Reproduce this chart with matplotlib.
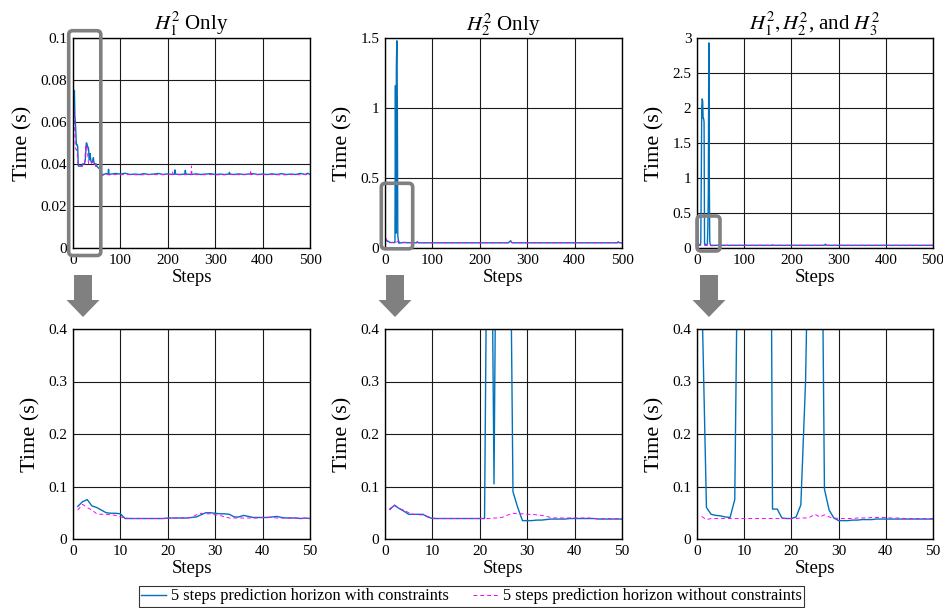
import matplotlib
matplotlib.use("Agg")
import matplotlib.pyplot as plt
from matplotlib.patches import FancyBboxPatch, Polygon
from matplotlib.lines import Line2D

plt.rcParams['font.family'] = ['Liberation Serif', 'DejaVu Serif']
plt.rcParams['mathtext.fontset'] = 'stix'

# ---------------- data ----------------
steps_head = list(range(1, 51))

# Panel 1: H1^2 only
h1_with_head = [0.062, 0.071, 0.075, 0.063, 0.060, 0.055, 0.050, 0.049, 0.049, 0.048,
                0.039, 0.039, 0.039, 0.039, 0.039, 0.039, 0.039, 0.039, 0.039, 0.040,
                0.040, 0.040, 0.040, 0.040, 0.041, 0.042, 0.046, 0.050, 0.050, 0.049,
                0.048, 0.048, 0.047, 0.042, 0.042, 0.045, 0.043, 0.041, 0.041, 0.041,
                0.041, 0.042, 0.043, 0.041, 0.040, 0.040, 0.040, 0.039, 0.040, 0.039]
h1_without_head = [0.055, 0.066, 0.060, 0.055, 0.048, 0.047, 0.047, 0.046, 0.045, 0.042,
                   0.040, 0.039, 0.039, 0.039, 0.039, 0.039, 0.039, 0.039, 0.039, 0.039,
                   0.040, 0.040, 0.040, 0.040, 0.041, 0.046, 0.049, 0.048, 0.048, 0.046,
                   0.045, 0.042, 0.040, 0.040, 0.040, 0.040, 0.040, 0.040, 0.040, 0.041,
                   0.041, 0.041, 0.040, 0.040, 0.040, 0.040, 0.040, 0.039, 0.039, 0.039]
h1_with_tail_steps = [54, 57, 60, 65, 70, 74, 75, 76, 80, 90, 100, 110, 120, 130, 140, 150,
                      160, 170, 180, 190, 200, 210, 214, 215, 216, 225, 236, 237, 238, 250,
                      260, 270, 280, 290, 300, 310, 320, 329, 330, 331, 340, 350, 360, 370,
                      380, 390, 400, 410, 420, 430, 440, 450, 460, 470, 480, 490, 495, 500]
h1_with_tail = [0.038, 0.038, 0.035, 0.035, 0.0355, 0.035, 0.0375, 0.035, 0.0352, 0.0355,
                0.0352, 0.0356, 0.035, 0.0352, 0.035, 0.0354, 0.035, 0.0352, 0.0355, 0.035,
                0.0353, 0.035, 0.0352, 0.0372, 0.0352, 0.035, 0.0352, 0.037, 0.0352, 0.035,
                0.0353, 0.035, 0.0352, 0.0354, 0.035, 0.0352, 0.035, 0.0352, 0.036, 0.0352,
                0.035, 0.0353, 0.035, 0.0352, 0.0354, 0.035, 0.0352, 0.035, 0.0353, 0.035,
                0.0354, 0.035, 0.0352, 0.035, 0.0355, 0.035, 0.0356, 0.035]
h1_without_tail_steps = [54, 57, 60, 70, 80, 90, 100, 120, 140, 160, 180, 200, 209, 210, 211,
                         230, 249, 250, 251, 270, 290, 310, 330, 350, 374, 375, 376, 400, 420,
                         440, 460, 480, 500]
h1_without_tail = [0.038, 0.038, 0.0345, 0.035, 0.0348, 0.035, 0.0349, 0.035, 0.0348, 0.035,
                   0.0349, 0.035, 0.035, 0.0362, 0.035, 0.0349, 0.035, 0.039, 0.035, 0.0349,
                   0.035, 0.0348, 0.035, 0.0349, 0.035, 0.037, 0.035, 0.0349, 0.035, 0.0348,
                   0.035, 0.0349, 0.035]

# Panel 2: H2^2 only
h2_with_head = [0.057, 0.064, 0.058, 0.053, 0.047, 0.047, 0.047, 0.047, 0.042, 0.039,
                0.039, 0.039, 0.039, 0.039, 0.039, 0.039, 0.039, 0.039, 0.039, 0.039,
                0.039, 1.16, 0.105, 1.30, 1.48, 1.03, 0.090, 0.060, 0.035, 0.035,
                0.035, 0.036, 0.036, 0.037, 0.038, 0.038, 0.038, 0.038, 0.039, 0.039,
                0.039, 0.039, 0.039, 0.039, 0.038, 0.038, 0.038, 0.038, 0.038, 0.038]
h2_without_head = [0.055, 0.065, 0.058, 0.055, 0.050, 0.047, 0.046, 0.046, 0.043, 0.040,
                   0.039, 0.039, 0.039, 0.039, 0.039, 0.039, 0.039, 0.039, 0.039, 0.039,
                   0.039, 0.039, 0.040, 0.040, 0.042, 0.046, 0.049, 0.048, 0.048, 0.047,
                   0.047, 0.046, 0.045, 0.043, 0.041, 0.040, 0.040, 0.040, 0.040, 0.040,
                   0.040, 0.040, 0.040, 0.039, 0.039, 0.039, 0.039, 0.039, 0.039, 0.039]
h2_with_tail_steps = [55, 66, 68, 70, 100, 150, 200, 260, 263, 265, 267, 270, 300, 350, 400,
                      450, 490, 492, 494, 500]
h2_with_tail = [0.038, 0.037, 0.045, 0.037, 0.037, 0.037, 0.037, 0.037, 0.045, 0.052, 0.040,
                0.037, 0.037, 0.037, 0.037, 0.037, 0.037, 0.045, 0.037, 0.037]
h2_without_tail_steps = [55, 100, 150, 200, 250, 300, 350, 400, 450, 500]
h2_without_tail = [0.038, 0.038, 0.038, 0.038, 0.038, 0.038, 0.038, 0.038, 0.038, 0.038]

# Panel 3: H1^2, H2^2 and H3^2
h3_with_head = [0.48, 0.060, 0.047, 0.045, 0.044, 0.042, 0.041, 0.075, 0.90, 2.00,
                2.13, 2.10, 1.85, 1.85, 1.80, 0.057, 0.057, 0.040, 0.039, 0.039,
                0.042, 0.065, 0.30, 0.80, 2.93, 1.10, 0.095, 0.055, 0.040, 0.035,
                0.035, 0.035, 0.036, 0.036, 0.037, 0.037, 0.037, 0.038, 0.038, 0.038,
                0.038, 0.038, 0.038, 0.038, 0.038, 0.038, 0.038, 0.038, 0.038, 0.038]
h3_without_head = [0.043, 0.037, 0.039, 0.039, 0.039, 0.039, 0.039, 0.039, 0.039, 0.039,
                   0.039, 0.039, 0.039, 0.039, 0.039, 0.039, 0.039, 0.039, 0.039, 0.039,
                   0.039, 0.040, 0.040, 0.042, 0.047, 0.042, 0.046, 0.042, 0.040, 0.039,
                   0.039, 0.039, 0.039, 0.040, 0.040, 0.040, 0.041, 0.041, 0.041, 0.041,
                   0.040, 0.040, 0.040, 0.039, 0.039, 0.039, 0.039, 0.039, 0.039, 0.039]
h3_with_tail_steps = [60, 100, 158, 160, 162, 200, 270, 272, 274, 350, 400, 450, 500]
h3_with_tail = [0.038, 0.038, 0.038, 0.045, 0.038, 0.038, 0.038, 0.055, 0.038, 0.038, 0.038,
                0.038, 0.038]
h3_without_tail_steps = [60, 100, 150, 200, 250, 300, 350, 400, 450, 500]
h3_without_tail = [0.039, 0.039, 0.039, 0.039, 0.039, 0.039, 0.039, 0.039, 0.039, 0.039]

titles = [r'$H_1^2$ Only', r'$H_2^2$ Only', r'$H_1^2,H_2^2$, and $H_3^2$']
top_ylims = [0.1, 1.5, 3.0]
top_yticks = [[0, 0.02, 0.04, 0.06, 0.08, 0.1],
              [0, 0.5, 1, 1.5],
              [0, 0.5, 1, 1.5, 2, 2.5, 3]]
top_xticks = [0, 100, 200, 300, 400, 500]
bottom_xticks = [0, 10, 20, 30, 40, 50]
bottom_yticks = [0, 0.1, 0.2, 0.3, 0.4]
legend_labels = ['5 steps prediction horizon with constraints',
                 '5 steps prediction horizon without constraints']

series = [
    (h1_with_head, h1_with_tail_steps, h1_with_tail, h1_without_head, h1_without_tail_steps, h1_without_tail),
    (h2_with_head, h2_with_tail_steps, h2_with_tail, h2_without_head, h2_without_tail_steps, h2_without_tail),
    (h3_with_head, h3_with_tail_steps, h3_with_tail, h3_without_head, h3_without_tail_steps, h3_without_tail),
]

# ---------------- style ----------------
W, H = 943, 608
BLUE = '#0072BD'
MAG = '#FF00FF'
GRAY = '#808080'
fig = plt.figure(figsize=(W / 100, H / 100), dpi=100)

lefts = [73, 385, 697]
widths = [237, 237, 236]
top_row = (38, 248)
bot_row = (329, 539)


def fmt(v):
    return ('%g' % v)


def make_ax(left, width, row):
    t, b = row
    return fig.add_axes([left / W, (H - b) / H, width / W, (b - t) / H])


def style(ax, xt, yt, xl, yl):
    ax.set_xlim(*xl)
    ax.set_ylim(*yl)
    ax.set_xticks(xt)
    ax.set_yticks(yt)
    ax.set_xticklabels([fmt(v) for v in xt], fontsize=11)
    ax.set_yticklabels([fmt(v) for v in yt], fontsize=11)
    ax.tick_params(length=0, pad=4)
    ax.grid(True, color='#1a1a1a', lw=0.8)
    ax.set_axisbelow(True)
    for s in ax.spines.values():
        s.set_color('black')
        s.set_linewidth(1.0)
    ax.set_xlabel('Steps', fontsize=13.5, labelpad=2)
    ax.set_ylabel('Time (s)', fontsize=16, labelpad=6)


for i in range(3):
    wh, wts, wt, woh, wots, wot = series[i]
    x_with = steps_head + wts
    y_with = wh + wt
    x_wo = steps_head + wots
    y_wo = woh + wot

    ax = make_ax(lefts[i], widths[i], top_row)
    ax.plot(x_with, y_with, color=BLUE, lw=1.0)
    ax.plot(x_wo, y_wo, color=MAG, lw=0.7, ls=(0, (4, 3)))
    style(ax, top_xticks, top_yticks[i], (0, 500), (0, top_ylims[i]))
    ax.set_title(titles[i], fontsize=15, pad=5)

    axb = make_ax(lefts[i], widths[i], bot_row)
    axb.plot(x_with, y_with, color=BLUE, lw=1.0)
    axb.plot(x_wo, y_wo, color=MAG, lw=0.7, ls=(0, (4, 3)))
    style(axb, bottom_xticks, bottom_yticks, (0, 50), (0, 0.4))

# ---------------- zoom boxes and arrows (pixel coordinates) ----------------
boxes = [(68.7, 30.7, 100.8, 255.5), (381.3, 183.3, 412.7, 248.8), (697.0, 216.0, 720.0, 251.0)]
for (x0, y0, x1, y1) in boxes:
    p = FancyBboxPatch((x0 / 100, (H - y1) / 100), (x1 - x0) / 100, (y1 - y0) / 100,
                       boxstyle='round,pad=0,rounding_size=0.04',
                       transform=fig.dpi_scale_trans, fill=False,
                       edgecolor=GRAY, lw=2.6, clip_on=False, zorder=10)
    fig.patches.append(p)

arrow_centers = [83, 395, 709]
for cx in arrow_centers:
    pts_px = [(cx - 9, 275), (cx + 9, 275), (cx + 9, 300), (cx + 16.5, 300),
              (cx, 317), (cx - 16.5, 300), (cx - 9, 300)]
    pts = [(x / 100, (H - y) / 100) for (x, y) in pts_px]
    fig.patches.append(Polygon(pts, closed=True, transform=fig.dpi_scale_trans,
                               facecolor=GRAY, edgecolor='none', zorder=10))

# ---------------- legend ----------------
handles = [Line2D([], [], color=BLUE, lw=1.0),
           Line2D([], [], color=MAG, lw=0.7, ls=(0, (4, 3)))]
leg = fig.legend(handles, legend_labels, loc='center', bbox_to_anchor=(0.5, 11.5 / H),
                 ncol=2, fontsize=11.8, frameon=True, fancybox=False, edgecolor='black',
                 handlelength=1.5, handletextpad=0.3, columnspacing=1.5, borderpad=0.15,
                 borderaxespad=0)
leg.get_frame().set_linewidth(0.8)

fig.savefig('out.png', dpi=100)
